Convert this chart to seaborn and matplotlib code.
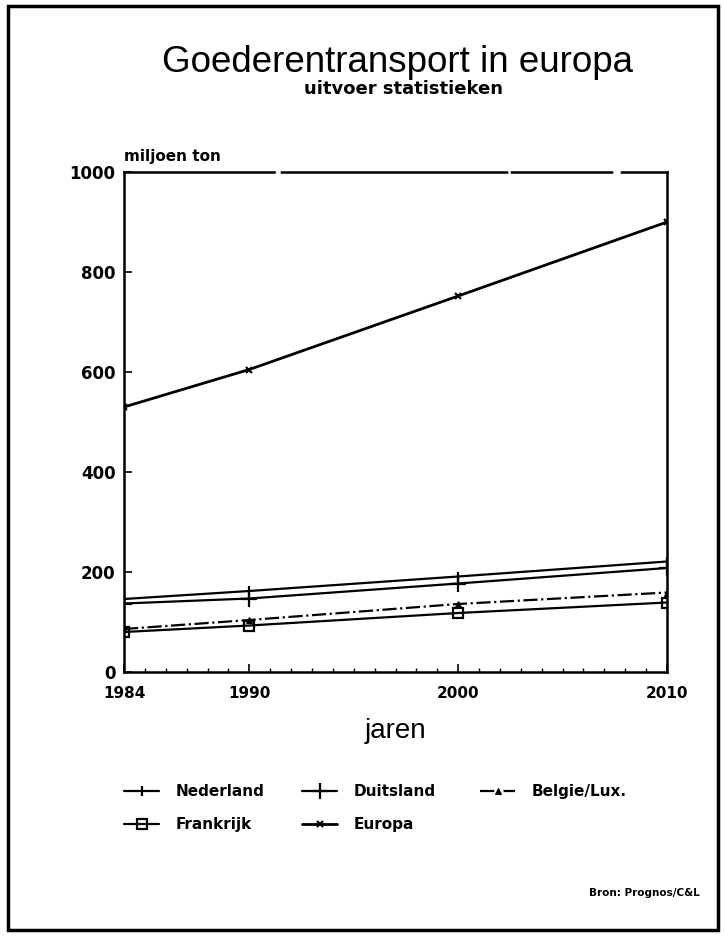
import matplotlib
matplotlib.use("Agg")
import matplotlib.pyplot as plt
import seaborn as sns
import pandas as pd
from matplotlib.patches import Rectangle
from matplotlib.ticker import MultipleLocator

sns.set_style("white")
plt.rcParams['font.family'] = ['Liberation Sans', 'DejaVu Sans']
plt.rcParams['text.color'] = 'black'
plt.rcParams['axes.labelcolor'] = 'black'
plt.rcParams['xtick.color'] = 'black'
plt.rcParams['ytick.color'] = 'black'

years = [1984, 1990, 2000, 2010]
nederland = [146, 162, 191, 221]
duitsland = [137, 147, 177, 208]
belgie = [86, 104, 136, 159]
frankrijk = [80, 93, 118, 139]
europa = [530, 605, 752, 900]
names = ["Nederland", "Duitsland", "Belgie/Lux.", "Frankrijk", "Europa"]
values = [nederland, duitsland, belgie, frankrijk, europa]

styles = [
    dict(linestyle="-", marker="|", markersize=7, mew=1.6, linewidth=1.6),
    dict(linestyle="-", marker="+", markersize=11, mew=1.6, linewidth=1.6),
    dict(linestyle="-.", marker="^", markersize=5, linewidth=1.6),
    dict(linestyle="-", marker="s", markersize=7, mew=1.6, fillstyle="none", linewidth=1.6),
    dict(linestyle="-", marker="x", markersize=4, mew=1.5, linewidth=2.0),
]

fig = plt.figure(figsize=(7.24, 9.36), dpi=100)
ax = fig.add_axes([124/724, 1 - 672/936, 543/724, 500/936])

for name, vals, kw in zip(names, values, styles):
    df = pd.DataFrame({"jaar": years, "waarde": vals})
    sns.lineplot(data=df, x="jaar", y="waarde", ax=ax, color="black",
                 mec="black", mfc="black", legend=False, **kw)

lines = ax.get_lines()

ax.set_xlim(1984, 2010)
ax.set_ylim(0, 1000)
ax.set_xticks(years)
ax.set_xticklabels([str(y) for y in years], fontweight="bold", fontsize=11, family="DejaVu Sans")
ax.xaxis.set_minor_locator(MultipleLocator(1))
ax.set_yticks([0, 200, 400, 600, 800, 1000])
ax.set_yticklabels(["0", "200", "400", "600", "800", "1000"], fontweight="bold", fontsize=12,
                   family="DejaVu Sans")
ax.tick_params(axis="both", which="major", direction="in", length=6, width=1.2, pad=6,
               color="black", labelcolor="black")
ax.tick_params(axis="x", which="minor", direction="in", length=3, width=1, color="black", bottom=True)
ax.tick_params(axis="x", which="major", pad=10)
ax.tick_params(left=True, bottom=True)
for s in ["left", "right", "bottom", "top"]:
    ax.spines[s].set_color("black")
    ax.spines[s].set_linewidth(1.8)
ax.spines["top"].set_linestyle((0, (60, 3, 90, 2, 40, 4)))
ax.set_xlabel("jaren", fontsize=20, labelpad=12, color="black")
ax.set_ylabel("")
ax.text(0.0, 1.015, "miljoen ton", transform=ax.transAxes, fontsize=11, fontweight="bold",
        family="DejaVu Sans", ha="left", va="bottom", color="black")

legend_cols = [([0, 3], 124), ([1, 4], 302), ([2], 480)]
for idx, xh in legend_cols:
    leg = fig.legend([lines[i] for i in idx], [names[i] for i in idx],
                     loc="upper left", bbox_to_anchor=(xh/724, 1 - 784/936),
                     frameon=False, borderpad=0, borderaxespad=0,
                     handlelength=2.3, handletextpad=1.1, labelspacing=1.2,
                     prop={"weight": "bold", "size": 11, "family": "DejaVu Sans"})
    for t in leg.get_texts():
        t.set_color("black")

fig.text(397/724, 1 - 62/936, "Goederentransport in europa", ha="center", va="center",
         fontsize=26.5, color="black")
fig.text(403/724, 1 - 89/936, "uitvoer statistieken", ha="center", va="center", fontsize=13,
         fontweight="bold", family="DejaVu Sans", color="black")
fig.text(700/724, 1 - 893/936, "Bron: Prognos/C&L", ha="right", va="center", fontsize=7.5,
         fontweight="bold", family="DejaVu Sans", color="black")

fig.patches.append(Rectangle((8/724, 1 - 930/936), 710/724, 924/936, transform=fig.transFigure,
                             fill=False, edgecolor="black", linewidth=2.5))

fig.savefig("out.png", dpi=100)
